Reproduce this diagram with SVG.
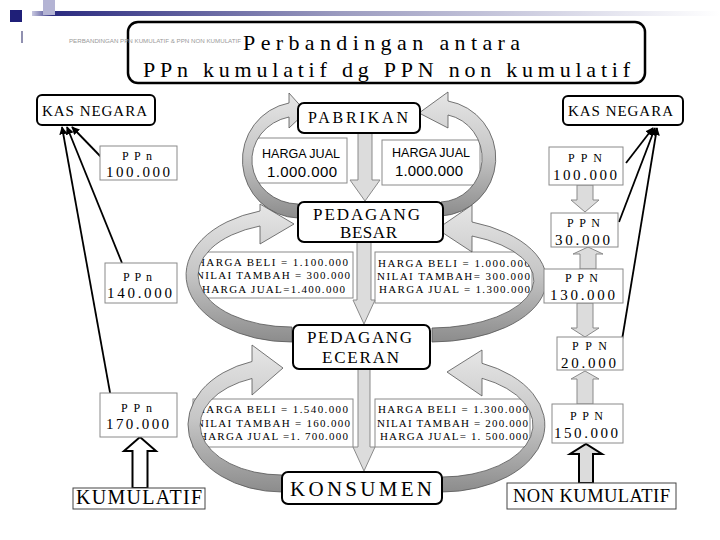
<svg xmlns="http://www.w3.org/2000/svg" width="720" height="540" viewBox="0 0 720 540">
<defs>
<style>
.nb{fill:#fff;stroke:#000;stroke-width:2}
.tb{fill:#fff;stroke:#8a8a8a;stroke-width:1}
.sf{font-family:"Liberation Serif","Times New Roman",serif;fill:#000}
.ss{font-family:"Liberation Sans",Arial,sans-serif;fill:#000}
.rib{fill:url(#rg);stroke:#555;stroke-width:0.8}
.ba{fill:#dcdcdc;stroke:#8a8a8a;stroke-width:1}
.ln{stroke:#000;stroke-width:1.8;fill:none;marker-end:url(#ah)}
</style>
<linearGradient id="rg" x1="0" y1="0" x2="0" y2="1">
<stop offset="0" stop-color="#e6e6e6"/>
<stop offset="0.5" stop-color="#c6c6c6"/>
<stop offset="1" stop-color="#8c8c8c"/>
</linearGradient>
<linearGradient id="bar" x1="0" y1="0" x2="1" y2="0">
<stop offset="0" stop-color="#c8c8e0"/>
<stop offset="0.03" stop-color="#2b2b80"/>
<stop offset="0.45" stop-color="#9c9cc0"/>
<stop offset="0.85" stop-color="#e6e6f0"/>
<stop offset="1" stop-color="#ffffff"/>
</linearGradient>
<marker id="ah" viewBox="0 0 10 10" refX="9" refY="5" markerWidth="4.5" markerHeight="4.5" orient="auto"><path d="M0,0 L10,5 L0,10 z" fill="#000"/></marker>
</defs>
<rect width="720" height="540" fill="#fff"/>
<g id="decor">
<rect x="32" y="11" width="688" height="5" fill="url(#bar)"/>
<rect x="43" y="0" width="12" height="15" fill="#b4b4d4"/>
<rect x="10" y="10" width="12" height="12" fill="#1f1f78"/>
<rect x="21" y="31" width="2" height="12" fill="#9090b0"/>
</g>
<g id="title">
<rect x="128" y="22" width="517" height="61" rx="10" fill="#fff" stroke="#000" stroke-width="2.5"/>
<text class="sf" x="243" y="50" font-size="22" textLength="277" lengthAdjust="spacing">Perbandingan antara</text>
<text class="sf" x="143" y="77" font-size="22" textLength="487" lengthAdjust="spacing">PPn kumulatif dg PPN non kumulatif</text>
<text class="ss" x="69" y="43" font-size="4.5" textLength="172" lengthAdjust="spacingAndGlyphs" style="fill:#999">PERBANDINGAN PPN KUMULATIF &amp; PPN NON KUMULATIF</text>
</g>
<g id="price-boxes">
<g id="hj-left"><rect class="tb" x="248" y="138" width="99" height="45"/>
<text class="ss" x="262" y="158" font-size="13" textLength="78" lengthAdjust="spacingAndGlyphs">HARGA JUAL</text>
<text class="ss" x="267" y="177" font-size="15" textLength="70" lengthAdjust="spacing">1.000.000</text></g>
<g id="hj-right"><rect class="tb" x="382" y="140" width="98" height="45"/>
<text class="ss" x="392" y="157" font-size="13" textLength="78" lengthAdjust="spacingAndGlyphs">HARGA JUAL</text>
<text class="ss" x="395" y="176" font-size="15" textLength="68" lengthAdjust="spacing">1.000.000</text></g>
<g id="pb-left"><rect class="tb" x="193" y="252" width="160" height="46"/>
<text class="sf" x="197" y="266" font-size="11" textLength="151" lengthAdjust="spacing">HARGA BELI = 1.100.000</text>
<text class="sf" x="196" y="279" font-size="11" textLength="154" lengthAdjust="spacing">NILAI TAMBAH = 300.000</text>
<text class="sf" x="202" y="293" font-size="11" textLength="143" lengthAdjust="spacing">HARGA JUAL=1.400.000</text></g>
<g id="pb-right"><rect class="tb" x="375" y="252" width="157" height="51"/>
<text class="sf" x="378" y="267" font-size="11" textLength="152" lengthAdjust="spacing">HARGA BELI = 1.000.000</text>
<text class="sf" x="377" y="280" font-size="11" textLength="153" lengthAdjust="spacing">NILAI TAMBAH= 300.000</text>
<text class="sf" x="379" y="293" font-size="11" textLength="151" lengthAdjust="spacing">HARGA JUAL = 1.300.000</text></g>
<g id="pe-left"><rect class="tb" x="193" y="399" width="160" height="48"/>
<text class="sf" x="197" y="413" font-size="11" textLength="151" lengthAdjust="spacing">HARGA BELI = 1.540.000</text>
<text class="sf" x="196" y="427" font-size="11" textLength="154" lengthAdjust="spacing">NILAI TAMBAH = 160.000</text>
<text class="sf" x="199" y="440" font-size="11" textLength="149" lengthAdjust="spacing">HARGA JUAL =1. 700.000</text></g>
<g id="pe-right"><rect class="tb" x="375" y="399" width="155" height="48"/>
<text class="sf" x="378" y="413" font-size="11" textLength="150" lengthAdjust="spacing">HARGA BELI = 1.300.000</text>
<text class="sf" x="377" y="427" font-size="11" textLength="151" lengthAdjust="spacing">NILAI TAMBAH = 200.000</text>
<text class="sf" x="380" y="440" font-size="11" textLength="148" lengthAdjust="spacing">HARGA JUAL= 1. 500.000</text></g>
</g>
<g id="connectors">
<path class="rib" d="M298,218 A57,58 0 0 1 289,103 L289,93 L306,112 L289,128 L289,117 A47,44 0 0 0 298,204 Z"/>
<path class="rib" d="M441,216 A58,58 0 0 0 448,101 L448,92 L419,113 L448,128 L448,115 A43,44 0 0 1 441,202 Z"/>
<path class="rib" d="M292,342 A105,67 0 0 1 260,211 L260,204 L294,224 L260,244 L260,226 A93,52 0 0 0 292,327 Z"/>
<path class="rib" d="M432,342 A115,62 0 0 0 472,222 L472,205 L437,229 L472,252 L472,236 A103,48 0 0 1 432,328 Z"/>
<path class="rib" d="M282,492 A94,67 0 0 1 252,361.5 L252,345 L283,368 L252,395 L252,378.5 A82,50 0 0 0 282,475 Z"/>
<path class="rib" d="M442,492 A103,67 0 0 0 482,363.3 L482,350 L447,372 L482,396 L482,378.3 A91,52 0 0 1 442,477 Z"/>
<path class="ba" d="M358,133 L372,133 L372,180 L380,180 L365,201 L350,180 L358,180 Z"/>
<path class="ba" d="M357,242 L371,242 L371,300 L375,300 L364,324 L353,300 L357,300 Z"/>
<path class="ba" d="M358,369 L370,369 L370,447 L375,447 L364,471 L353,447 L358,447 Z"/>
<path class="ba" d="M577,185 L593,185 L593,200 L599,200 L585,212 L571,200 L577,200 Z"/>
<path class="ba" d="M580,269 L596,269 L596,254 L603,254 L588,247 L573,254 L580,254 Z"/>
<path class="ba" d="M577,303 L593,303 L593,328 L599,328 L585,337 L571,328 L577,328 Z"/>
<path class="ba" d="M577,404 L593,404 L593,379 L599,379 L585,371 L571,379 L577,379 Z"/>
<path d="M579,483 L593,483 L593,454 L602,454 L586,444 L570,454 L579,454 Z" fill="#dcdcdc" stroke="#000" stroke-width="2"/>
<path d="M132.5,488 L147.5,488 L147.5,451 L156,451 L140,437 L124,451 L132.5,451 Z" fill="#fff" stroke="#000" stroke-width="2"/>
<line class="ln" x1="102" y1="158" x2="72" y2="127"/>
<line class="ln" x1="122" y1="263" x2="67" y2="127"/>
<line class="ln" x1="111" y1="398" x2="62" y2="127"/>
<line class="ln" x1="626" y1="163" x2="653" y2="128"/>
<line class="ln" x1="619" y1="222" x2="655" y2="128"/>
<line class="ln" x1="622" y1="340" x2="657" y2="128"/>
</g>
<g id="pabrikan"><rect class="nb" x="298" y="103" width="122" height="30" rx="6"/>
<text class="sf" x="308" y="123" font-size="16" textLength="100" lengthAdjust="spacing">PABRIKAN</text></g>
<g id="pedagang-besar"><rect class="nb" x="298" y="202" width="145" height="40" rx="6"/>
<text class="sf" x="313" y="220" font-size="17" textLength="107" lengthAdjust="spacing">PEDAGANG</text>
<text class="sf" x="340" y="238" font-size="17" textLength="57" lengthAdjust="spacing">BESAR</text></g>
<g id="pedagang-eceran"><rect class="nb" x="293" y="325" width="137" height="44" rx="6"/>
<text class="sf" x="307" y="343" font-size="17" textLength="105" lengthAdjust="spacing">PEDAGANG</text>
<text class="sf" x="322" y="363" font-size="17" textLength="77" lengthAdjust="spacing">ECERAN</text></g>
<g id="konsumen"><rect class="nb" x="282" y="472" width="160" height="32" rx="6"/>
<text class="sf" x="290" y="496" font-size="21" textLength="142" lengthAdjust="spacing">KONSUMEN</text></g>
<g id="kas-negara-left"><rect class="nb" x="37" y="95" width="118" height="30" rx="5"/>
<text class="sf" x="42" y="116" font-size="15" textLength="105" lengthAdjust="spacing">KAS NEGARA</text></g>
<g id="kas-negara-right"><rect class="nb" x="563" y="96" width="120" height="29" rx="5"/>
<text class="sf" x="568" y="116" font-size="15" textLength="105" lengthAdjust="spacing">KAS NEGARA</text></g>
<g id="ppn-k-100"><rect class="tb" x="100" y="146" width="77" height="34"/>
<text class="sf" x="122" y="160" font-size="12" textLength="30" lengthAdjust="spacing">PPn</text>
<text class="sf" x="106" y="177" font-size="15" textLength="64" lengthAdjust="spacing">100.000</text></g>
<g id="ppn-k-140"><rect class="tb" x="105" y="263" width="72" height="40"/>
<text class="sf" x="123" y="281" font-size="12" textLength="29" lengthAdjust="spacing">PPn</text>
<text class="sf" x="107" y="298" font-size="15" textLength="65" lengthAdjust="spacing">140.000</text></g>
<g id="ppn-k-170"><rect class="tb" x="100" y="393" width="77" height="44"/>
<text class="sf" x="121" y="412" font-size="12" textLength="31" lengthAdjust="spacing">PPn</text>
<text class="sf" x="106" y="429" font-size="15" textLength="63" lengthAdjust="spacing">170.000</text></g>
<g id="kumulatif"><rect x="73" y="488" width="132" height="21" fill="#fff" stroke="#444" stroke-width="1"/>
<text class="sf" x="76" y="504" font-size="20" textLength="126" lengthAdjust="spacing">KUMULATIF</text></g>
<g id="ppn-n-100"><rect class="tb" x="549" y="147" width="74" height="38"/>
<text class="sf" x="568" y="162" font-size="12" textLength="34" lengthAdjust="spacing">PPN</text>
<text class="sf" x="553" y="180" font-size="15" textLength="64" lengthAdjust="spacing">100.000</text></g>
<g id="ppn-n-30"><rect class="tb" x="551" y="213" width="67" height="34"/>
<text class="sf" x="567" y="227" font-size="12" textLength="33" lengthAdjust="spacing">PPN</text>
<text class="sf" x="555" y="245" font-size="15" textLength="55" lengthAdjust="spacing">30.000</text></g>
<g id="ppn-n-130"><rect class="tb" x="544" y="269" width="79" height="34"/>
<text class="sf" x="565" y="282" font-size="12" textLength="33" lengthAdjust="spacing">PPN</text>
<text class="sf" x="550" y="300" font-size="15" textLength="65" lengthAdjust="spacing">130.000</text></g>
<g id="ppn-n-20"><rect class="tb" x="557" y="337" width="66" height="33"/>
<text class="sf" x="572" y="350" font-size="12" textLength="35" lengthAdjust="spacing">PPN</text>
<text class="sf" x="561" y="368" font-size="15" textLength="55" lengthAdjust="spacing">20.000</text></g>
<g id="ppn-n-150"><rect class="tb" x="552" y="404" width="71" height="39"/>
<text class="sf" x="570" y="420" font-size="12" textLength="33" lengthAdjust="spacing">PPN</text>
<text class="sf" x="554" y="438" font-size="15" textLength="64" lengthAdjust="spacing">150.000</text></g>
<g id="non-kumulatif"><rect x="507" y="483" width="169" height="26" fill="#fff" stroke="#444" stroke-width="1"/>
<text class="sf" x="513" y="502" font-size="18.5" textLength="157" lengthAdjust="spacing">NON KUMULATIF</text></g>
</svg>
